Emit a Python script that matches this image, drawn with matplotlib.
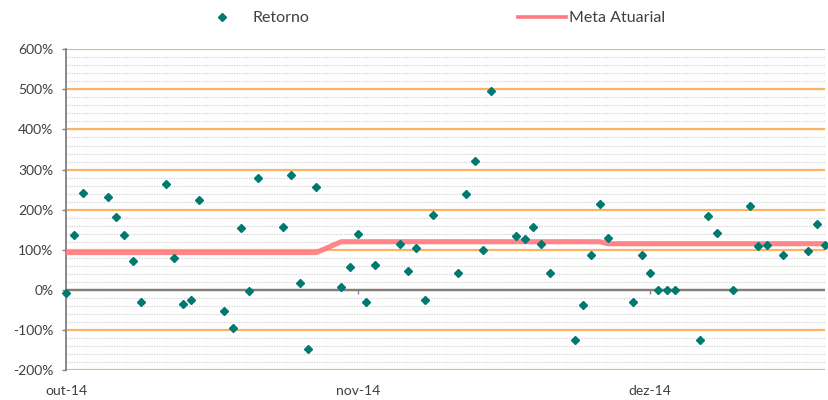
import matplotlib
matplotlib.use('Agg')
import matplotlib.pyplot as plt
import matplotlib.dates as mdates
from matplotlib.lines import Line2D
from matplotlib.ticker import MultipleLocator, FuncFormatter
import datetime as dt

# ---------------- data ----------------
dates = [
    "2014-10-01", "2014-10-02", "2014-10-03", "2014-10-06", "2014-10-07", "2014-10-08",
    "2014-10-09", "2014-10-10", "2014-10-13", "2014-10-14", "2014-10-15", "2014-10-16",
    "2014-10-17", "2014-10-20", "2014-10-21", "2014-10-22", "2014-10-23", "2014-10-24",
    "2014-10-27", "2014-10-28", "2014-10-29", "2014-10-30", "2014-10-31",
    "2014-11-03", "2014-11-04", "2014-11-05", "2014-11-06", "2014-11-07",
    "2014-11-10", "2014-11-11", "2014-11-12", "2014-11-13", "2014-11-14",
    "2014-11-17", "2014-11-18", "2014-11-19", "2014-11-20", "2014-11-21",
    "2014-11-24", "2014-11-25", "2014-11-26", "2014-11-27", "2014-11-28",
    "2014-12-01", "2014-12-02", "2014-12-03", "2014-12-04", "2014-12-05",
    "2014-12-08", "2014-12-09", "2014-12-10", "2014-12-11", "2014-12-12", "2014-12-13",
    "2014-12-16", "2014-12-17", "2014-12-18", "2014-12-20",
    "2014-12-22", "2014-12-23", "2014-12-24", "2014-12-26",
    "2014-12-29", "2014-12-30", "2014-12-31",
]
retorno = [
    -9, 138, 241, 232, 182, 138,
    73, -30, 263, 79, -36, -25,
    224, -53, -96, 153, -2, 280,
    157, 287, 16, -148, 257,
    7, 56, 139, -30, 62,
    115, 48, 105, -26, 186,
    43, 239, 322, 99, 496,
    134, 128, 157, 115, 41,
    -125, -37, 88, 215, 130,
    -30, 87, 41, 0, -1, 0,
    -125, 184, 142, 0,
    209, 110, 112, 88,
    97, 165, 113,
]
meta_dates = ["2014-10-01", "2014-10-31", "2014-11-03", "2014-12-04", "2014-12-05", "2014-12-31"]
meta_values = [93, 93, 120, 120, 115, 115]

x_tick_dates = ["2014-10-01", "2014-11-05", "2014-12-10"]
x_tick_labels = ["out-14", "nov-14", "dez-14"]
y_ticks = [-200, -100, 0, 100, 200, 300, 400, 500, 600]
x_start, x_end = "2014-10-01", "2014-12-31"

series_names = ["Retorno", "Meta Atuarial"]

# ---------------- style ----------------
plt.rcParams['font.family'] = ['Lato', 'DejaVu Sans']
TEXT = '#404040'
ORANGE = '#FAB363'
MINOR = '#D4D4D4'
AXGRAY = '#808080'
RED = '#FF7A80'
TEAL = '#007A70'


def d(s):
    return mdates.date2num(dt.datetime.strptime(s, "%Y-%m-%d"))


W, H = 829, 400
fig = plt.figure(figsize=(W / 100, H / 100), dpi=100)
left, right, top, bottom = 66, 825, 49.3, 370
ax = fig.add_axes([left / W, 1 - bottom / H, (right - left) / W, (bottom - top) / H])

ax.set_xlim(d(x_start), d(x_end))
ax.set_ylim(y_ticks[0], y_ticks[-1])

# grid
ax.set_yticks(y_ticks)
ax.yaxis.set_minor_locator(MultipleLocator(20))
ax.grid(which='minor', axis='y', color=MINOR, lw=0.9, ls=(0, (1, 1)), zorder=0)
ax.grid(which='major', axis='y', color=ORANGE, lw=1.6, zorder=1)
ax.set_axisbelow(True)

# zero line (covers the orange gridline at 0)
ax.axhline(0, color=AXGRAY, lw=1.7, zorder=2)

# spines
for s in ['top', 'right', 'bottom']:
    ax.spines[s].set_visible(False)
ax.spines['left'].set_color(AXGRAY)
ax.spines['left'].set_linewidth(1.3)

# y ticks
ax.yaxis.set_major_formatter(FuncFormatter(lambda v, p: f"{v:.0f}%".replace('\u2212', '-')))
ax.tick_params(axis='y', which='major', length=3, width=1, color=AXGRAY, direction='out',
               labelsize=10, labelcolor=TEXT, pad=6)
ax.tick_params(axis='y', which='minor', length=0)

# x ticks (labels at bottom)
ax.set_xticks([d(s) for s in x_tick_dates])
ax.set_xticklabels(x_tick_labels)
ax.tick_params(axis='x', length=0, labelsize=10, labelcolor=TEXT, pad=11)

# small ticks on the zero line
y0 = (0 - y_ticks[0]) / (y_ticks[-1] - y_ticks[0])
sec = ax.secondary_xaxis(y0)
sec.set_xticks([d(s) for s in x_tick_dates])
sec.set_xticklabels([])
sec.tick_params(axis='x', length=3, width=1, color=AXGRAY, direction='out')
sec.spines['bottom'].set_visible(False)

# series
ax.plot([d(s) for s in meta_dates], meta_values, color=RED, lw=3.7, alpha=0.9,
        solid_capstyle='butt', solid_joinstyle='round', zorder=3)
ax.plot([d(s) for s in dates], retorno, ls='none', marker='D', ms=4.0, color=TEAL,
        zorder=5, clip_on=False)

# legends
h1 = Line2D([], [], ls='none', marker='D', ms=3.8, color=TEAL)
h2 = Line2D([], [], color=RED, lw=2.6)
leg1 = fig.legend([h1], [series_names[0]], loc='center left', frameon=False,
                  bbox_to_anchor=(208.0 / W, 1 - 18.3 / H), borderpad=0, borderaxespad=0,
                  handlelength=1.8, handletextpad=1.0, fontsize=11.5, labelcolor=TEXT)
leg2 = fig.legend([h2], [series_names[1]], loc='center left', frameon=False,
                  bbox_to_anchor=(518 / W, 1 - 18.3 / H), borderpad=0, borderaxespad=0,
                  handlelength=3.0, handletextpad=0.2, fontsize=11.5, labelcolor=TEXT)

fig.savefig('out.png', dpi=100)
